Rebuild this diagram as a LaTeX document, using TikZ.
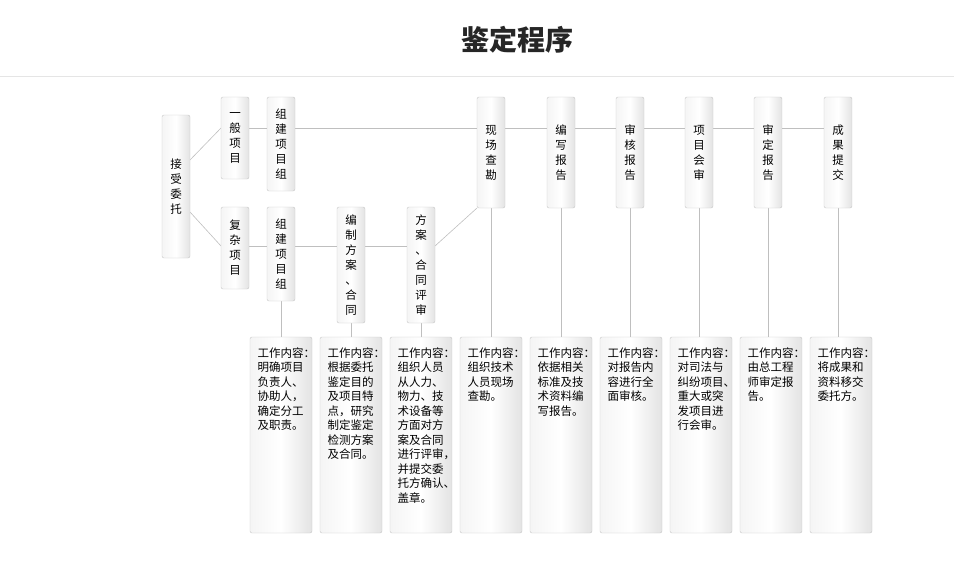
\documentclass[tikz,border=0pt]{standalone}
\usepackage{fontspec}
\newfontfamily\cjk{Noto Sans CJK SC}
\newcommand\mybox[6]{%
 \path[box] (#1,#2) rectangle (#3,#4);
 \node[vt] (#5) at ({(#1+#3)/2},{(#2+#4)/2}) {#6};}
\begin{document}
\begin{tikzpicture}[x=1pt,y=-1pt,
 box/.style={draw=gray!45,rounded corners=2pt,left color=gray!8,right color=gray!22,middle color=white,inner sep=0pt},
 vt/.style={font=\cjk\fontsize{11.5}{15}\selectfont,align=center},
 bt/.style={font=\cjk\fontsize{11.5}{14.5}\selectfont,align=left,anchor=north west},
 ln/.style={draw=gray!50,line width=0.6pt}]
\useasboundingbox (0,0) rectangle (954,565);
\node[font=\cjk\bfseries\fontsize{28}{32}\selectfont,text=black!85] (title) at (517,40) {鉴定程序};
\draw[gray!20] (0,76) -- (954,76);
\draw[ln] (249,128) -- (824,128);
\draw[ln] (249,246) -- (407,246);
\draw[ln] (190,160) -- (221,128);
\draw[ln] (190,212) -- (221,246);
\draw[ln] (435,246) -- (477,208);
\foreach \c/\t in {281/301,351/323,421/323,491/208,561/208,630/208,699/208,768/208,838/208}
  \draw[ln] (\c,\t) -- (\c,337);
\mybox{162}{115}{190}{258}{a}{接\\受\\委\\托}
\mybox{221}{97}{249}{179}{b}{一\\般\\项\\目}
\mybox{221}{207}{249}{289}{c}{复\\杂\\项\\目}
\mybox{267}{97}{295}{191}{d}{组\\建\\项\\目\\组}
\mybox{267}{207}{295}{301}{e}{组\\建\\项\\目\\组}
\mybox{337}{207}{365}{323}{f}{编\\制\\方\\案\\、\\合\\同}
\mybox{407}{207}{435}{323}{g}{方\\案\\、\\合\\同\\评\\审}
\mybox{477}{97}{505}{208}{h}{现\\场\\查\\勘}
\mybox{547}{97}{575}{208}{i}{编\\写\\报\\告}
\mybox{616}{97}{644}{208}{j}{审\\核\\报\\告}
\mybox{685}{97}{713}{208}{k}{项\\目\\会\\审}
\mybox{754}{97}{782}{208}{l}{审\\定\\报\\告}
\mybox{824}{97}{852}{208}{m}{成\\果\\提\\交}
\foreach \x/\n/\t in {250/p1/{工作内容：\\明确项目\\负责人、\\协助人，\\确定分工\\及职责。},
 320/p2/{工作内容：\\根据委托\\鉴定目的\\及项目特\\点，研究\\制定鉴定\\检测方案\\及合同。},
 390/p3/{工作内容：\\组织人员\\从人力、\\物力、技\\术设备等\\方面对方\\案及合同\\进行评审，\\并提交委\\托方确认、\\盖章。},
 460/p4/{工作内容：\\组织技术\\人员现场\\查勘。},
 530/p5/{工作内容：\\依据相关\\标准及技\\术资料编\\写报告。},
 600/p6/{工作内容：\\对报告内\\容进行全\\面审核。},
 670/p7/{工作内容：\\对司法与\\纠纷项目、\\重大或突\\发项目进\\行会审。},
 740/p8/{工作内容：\\由总工程\\师审定报\\告。},
 810/p9/{工作内容：\\将成果和\\资料移交\\委托方。}}{
 \path[box] (\x,337) rectangle ++(62,196);
 \node[bt] (\n) at (\x+4,344) {\t};}
\end{tikzpicture}
\end{document}
